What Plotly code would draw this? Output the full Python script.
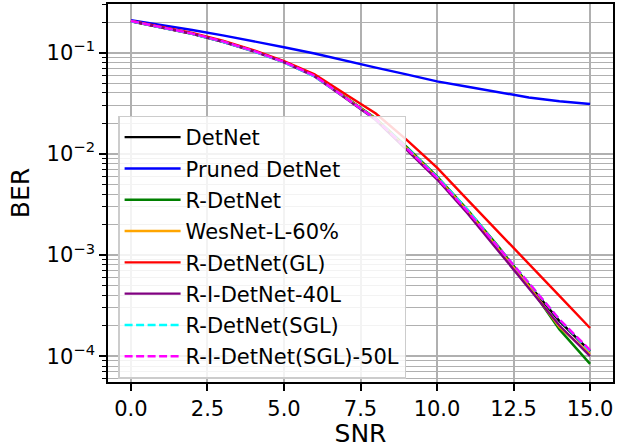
import plotly.graph_objects as go

snr = list(range(16))

detnet = [0.205, 0.179, 0.154, 0.129, 0.104, 0.081, 0.059, 0.036, 0.022, 0.0115, 0.0058, 0.0027, 0.00118, 5.1e-4, 2.22e-4, 1.12e-4]
pruned_detnet = [0.209, 0.188, 0.167, 0.148, 0.130, 0.113, 0.098, 0.083, 0.071, 0.061, 0.052, 0.046, 0.041, 0.036, 0.033, 0.031]
r_detnet = [0.204, 0.178, 0.153, 0.128, 0.104, 0.081, 0.059, 0.0365, 0.0224, 0.0118, 0.0060, 0.0028, 0.00122, 5.0e-4, 1.84e-4, 8.4e-5]
wesnet = [0.205, 0.179, 0.154, 0.129, 0.104, 0.081, 0.059, 0.036, 0.022, 0.0114, 0.0058, 0.0027, 0.00116, 4.9e-4, 1.95e-4, 1.05e-4]
r_detnet_gl = [0.205, 0.180, 0.156, 0.131, 0.106, 0.0825, 0.061, 0.039, 0.025, 0.0138, 0.0073, 0.0035, 0.0017, 8.1e-4, 3.95e-4, 1.9e-4]
r_i_detnet_40l = [0.204, 0.178, 0.153, 0.128, 0.103, 0.080, 0.058, 0.0355, 0.0215, 0.0110, 0.0056, 0.00257, 0.00111, 4.7e-4, 2.01e-4, 1.0e-4]
r_detnet_sgl = [0.204, 0.178, 0.153, 0.128, 0.103, 0.080, 0.058, 0.036, 0.022, 0.0116, 0.0059, 0.0028, 0.0012, 5.3e-4, 2.3e-4, 1.12e-4]
r_i_detnet_sgl_50l = [0.205, 0.179, 0.154, 0.129, 0.104, 0.081, 0.059, 0.036, 0.022, 0.0114, 0.0058, 0.0027, 0.0012, 5.3e-4, 2.31e-4, 1.15e-4]

series = [
    ("DetNet", detnet, "black", "solid"),
    ("Pruned DetNet", pruned_detnet, "#0000ff", "solid"),
    ("R-DetNet", r_detnet, "#008000", "solid"),
    ("WesNet-L-60%", wesnet, "#ffa500", "solid"),
    ("R-DetNet(GL)", r_detnet_gl, "#ff0000", "solid"),
    ("R-I-DetNet-40L", r_i_detnet_40l, "#800080", "solid"),
    ("R-DetNet(SGL)", r_detnet_sgl, "#00ffff", "8px,3.5px"),
    ("R-I-DetNet(SGL)-50L", r_i_detnet_sgl_50l, "#ff00ff", "8px,3.5px"),
]

x_ticks = [0, 2.5, 5, 7.5, 10, 12.5, 15]
x_ticktext = ["0.0", "2.5", "5.0", "7.5", "10.0", "12.5", "15.0"]
y_ticks = [1e-4, 1e-3, 1e-2, 1e-1]
y_ticktext = ["10<sup>−4</sup>", "10<sup>−3</sup>", "10<sup>−2</sup>", "10<sup>−1</sup>"]
y_minor = [m * 10 ** e for e in range(-5, 0) for m in range(2, 10)]

fig = go.Figure()
for i, (name, vals, color, dash) in enumerate(series):
    fig.add_trace(go.Scatter(
        x=snr, y=vals, name=name, mode="lines", legendgroup=f"g{i}",
        line=dict(color=color, width=2.4, dash=dash),
    ))

fig.update_layout(
    width=631, height=448,
    margin=dict(l=108, r=18, t=2, b=65),
    paper_bgcolor="white", plot_bgcolor="white",
    font=dict(family="DejaVu Sans", size=21, color="black"),
    legend=dict(
        x=0.02, y=0.705, xanchor="left", yanchor="top",
        bgcolor="rgba(255,255,255,0.85)", bordercolor="#cccccc", borderwidth=1.5,
        font=dict(size=21), traceorder="grouped", tracegroupgap=1,
        itemwidth=56,
    ),
    showlegend=True,
)

fig.update_xaxes(
    range=[-0.75, 15.75], tickmode="array", tickvals=x_ticks, ticktext=x_ticktext,
    showline=True, mirror=True, linecolor="black", linewidth=1.6,
    ticks="outside", ticklen=7, tickwidth=1.6, tickcolor="black",
    showgrid=True, gridcolor="#b0b0b0", gridwidth=1.6, zeroline=False,
    title=dict(text="SNR", standoff=7),
)
fig.update_yaxes(
    type="log", range=[-4.255, -0.52], tickmode="array", tickvals=y_ticks, ticktext=y_ticktext,
    showline=True, mirror=True, linecolor="black", linewidth=1.6,
    ticks="outside", ticklen=7, tickwidth=1.6, tickcolor="black",
    showgrid=True, gridcolor="#b0b0b0", gridwidth=1.6, zeroline=False,
    minor=dict(tickmode="array", tickvals=y_minor, ticks="outside", ticklen=4,
               tickwidth=1.2, tickcolor="black", showgrid=True, gridcolor="#b0b0b0", gridwidth=1.3),
    title=dict(text="BER", standoff=10),
)

fig.write_html("out.html", config={"displayModeBar": False},
               post_script="document.body.style.margin='0';")
